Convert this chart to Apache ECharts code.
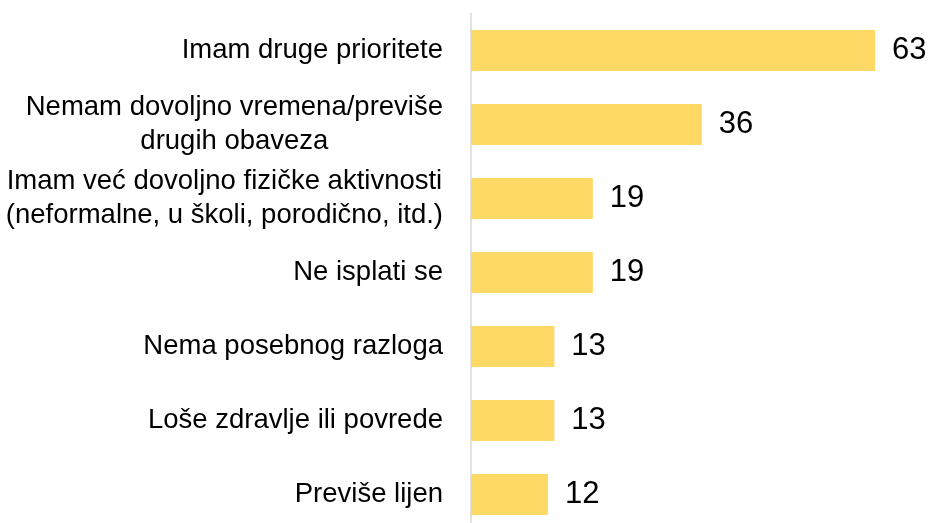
<!DOCTYPE html>
<html>
<head>
<meta charset="utf-8">
<script src="https://cdn.jsdelivr.net/npm/echarts@6/dist/echarts.min.js"></script>
<style>
  html, body { margin: 0; padding: 0; background: #fff; }
  #chart { width: 931px; height: 523px; }
</style>
</head>
<body>
<div id="chart"></div>
<script>
// razlozi (odozgo prema dolje)
var categories = [
    'Imam druge prioritete',
    'Nemam dovoljno vremena/previše\ndrugih obaveza',
    'Imam već dovoljno fizičke aktivnosti\n(neformalne, u školi, porodično, itd.)',
    'Ne isplati se',
    'Nema posebnog razloga',
    'Loše zdravlje ili povrede',
    'Previše lijen'
];
var values = [63, 36, 19, 19, 13, 13, 12];

var chart = echarts.init(document.getElementById('chart'));

var option = {
    animation: false,
    grid: {
        left: 471,
        top: 13.5,
        width: 404,
        height: 518,
        outerBoundsMode: 'none'
    },
    xAxis: {
        type: 'value',
        min: 0,
        max: 63,
        show: false
    },
    yAxis: {
        type: 'category',
        inverse: true,
        data: categories,
        axisLine: { lineStyle: { color: '#d9d9d9', width: 1.5 } },
        axisTick: { show: false },
        axisLabel: {
            margin: 28,
            align: 'right',
            // svaki red centriran unutar bloka
            formatter: function (v) {
                return v.split('\n').map(function (l) { return '{c|' + l + '}'; }).join('\n');
            },
            rich: {
                c: {
                    align: 'center',
                    fontFamily: 'Liberation Sans',
                    fontSize: 27.5,
                    lineHeight: 34,
                    color: '#000'
                }
            }
        }
    },
    series: [{
        type: 'bar',
        data: values,
        barWidth: 41,
        itemStyle: { color: '#FFD966' },
        label: {
            show: true,
            position: 'right',
            distance: 17,
            fontFamily: 'Liberation Sans',
            fontSize: 31,
            color: '#000'
        }
    }]
};

chart.setOption(option);
</script>
</body>
</html>
